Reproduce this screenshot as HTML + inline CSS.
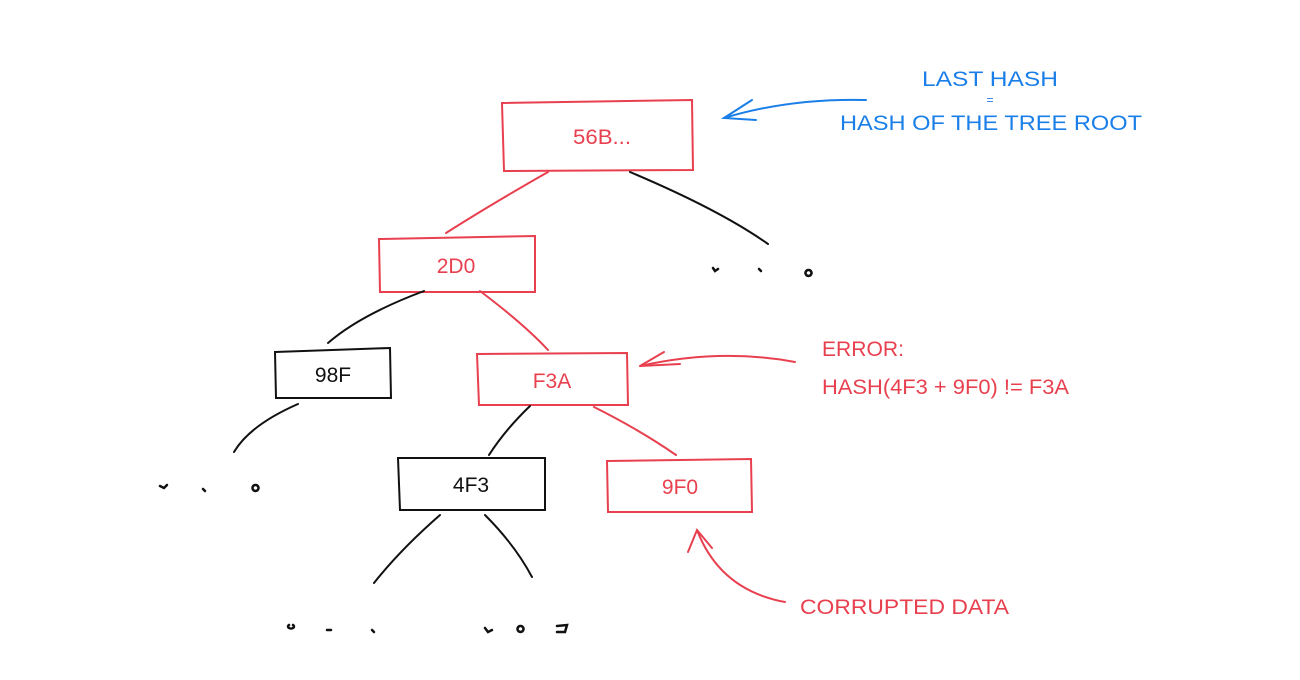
<!DOCTYPE html>
<html><head><meta charset="utf-8"><style>
html,body{margin:0;padding:0;background:#fff;}
svg{display:block;}
text{font-family:"Liberation Sans",sans-serif;}
</style></head><body>
<svg width="1300" height="680" viewBox="0 0 1300 680" xmlns="http://www.w3.org/2000/svg">
<g fill="none" stroke-width="2" stroke-linecap="round">
<path d="M502 103 L692 100 L693 170 L504 171 Z" stroke="#e8404f"/>
<path d="M379 239 L535 236 L535 292 L380 292 Z" stroke="#e8404f"/>
<path d="M275 352 L390 348 L391 398 L276 398 Z" stroke="#111"/>
<path d="M477 354 L627 353 L628 405 L479 405 Z" stroke="#e8404f"/>
<path d="M398 458 L545 458 L545 510 L400 510 Z" stroke="#111"/>
<path d="M607 461 L751 459 L752 512 L608 512 Z" stroke="#e8404f"/>
<path d="M548 172 Q490 205 446 233" stroke="#e8404f"/>
<path d="M630 172 Q720 210 768 244" stroke="#111"/>
<path d="M424 291 Q360 315 328 343" stroke="#111"/>
<path d="M480 291 Q525 325 548 350" stroke="#e8404f"/>
<path d="M298 404 Q250 425 234 452" stroke="#111"/>
<path d="M530 406 Q505 430 489 455" stroke="#111"/>
<path d="M594 407 Q640 430 676 455" stroke="#e8404f"/>
<path d="M440 515 Q400 550 374 583" stroke="#111"/>
<path d="M485 515 Q515 545 532 577" stroke="#111"/>
<g stroke="#111" stroke-width="2.5">
<path d="M713 268 l2 3 l3 -2"/><path d="M759 269 l2 2"/><path d="M808 270 a3 3 0 1 0 1 0"/>
<path d="M160 486 l4 2 l3 -3"/><path d="M203 489 l2 2"/><path d="M255 485 a3 3 0 1 0 1 0"/>
<path d="M289 625 a3 2 0 1 0 4 0"/><path d="M327 630 l4 0"/><path d="M372 630 l2 2"/>
<path d="M485 628 l3 4 l4 -2"/><path d="M520 626 a3 3 0 1 0 1 0"/><path d="M557 626 l10 -1 l-2 7 l-8 0"/>
</g>
<path d="M866 100 Q790 98 724 118" stroke="#1a7fe8"/>
<path d="M752 100 L724 118 L756 120" stroke="#1a7fe8"/>
<path d="M795 362 Q720 348 640 366" stroke="#e8404f"/>
<path d="M664 352 L640 366 L680 364" stroke="#e8404f"/>
<path d="M785 602 Q720 590 697 530" stroke="#e8404f"/>
<path d="M688 552 L697 530 L712 548" stroke="#e8404f"/>
</g>
<g font-size="21" text-anchor="middle">
<text x="602" y="144" fill="#e8404f" textLength="58" lengthAdjust="spacingAndGlyphs">56B...</text>
<text x="456" y="273" fill="#e8404f">2D0</text>
<text x="333" y="382" fill="#111">98F</text>
<text x="552" y="388" fill="#e8404f">F3A</text>
<text x="471" y="492" fill="#111">4F3</text>
<text x="680" y="494" fill="#e8404f">9F0</text>
<text x="990" y="86" fill="#1a7fe8" textLength="136" lengthAdjust="spacingAndGlyphs">LAST HASH</text>
<text x="990" y="104" fill="#1a7fe8" font-size="12">=</text>
<text x="991" y="130" fill="#1a7fe8" textLength="302" lengthAdjust="spacingAndGlyphs">HASH OF THE TREE ROOT</text>
</g>
<g font-size="21" fill="#e8404f">
<text x="822" y="356" textLength="82" lengthAdjust="spacingAndGlyphs">ERROR:</text>
<text x="822" y="394" textLength="247" lengthAdjust="spacingAndGlyphs">HASH(4F3 + 9F0) != F3A</text>
<text x="800" y="614" textLength="209" lengthAdjust="spacingAndGlyphs">CORRUPTED DATA</text>
</g>
</svg>
</body></html>
